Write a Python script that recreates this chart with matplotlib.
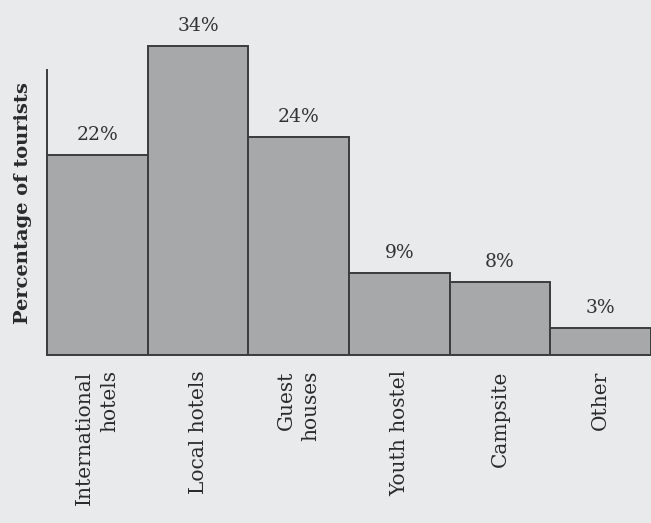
import matplotlib
matplotlib.use('Agg')
import matplotlib.pyplot as plt

# data
categories = ['International\nhotels', 'Local hotels', 'Guest\nhouses',
              'Youth hostel', 'Campsite', 'Other']
percentages = [22, 34, 24, 9, 8, 3]

bg = '#e9eaec'
bar_color = '#a7a8a9'
edge_color = '#3c3c3c'

plt.rcParams['font.family'] = ['DejaVu Serif']

fig = plt.figure(figsize=(6.51, 5.23), dpi=100, facecolor=bg)
ax = fig.add_axes([47 / 651, 168 / 523, 604 / 651, 345 / 523])
ax.set_facecolor(bg)

x = list(range(len(categories)))
bars = ax.bar(x, percentages, width=1.0, color=bar_color,
              edgecolor=edge_color, linewidth=1.4)

for xi, v in zip(x, percentages):
    ax.annotate(f'{v}%', (xi, v), xytext=(0, 8), textcoords='offset points',
                ha='center', va='bottom', fontsize=13.5, color='#333333')

ax.set_xlim(-0.5, 5.5)
ax.set_ylim(0, 38)

for s in ['top', 'right']:
    ax.spines[s].set_visible(False)
ax.spines['left'].set_bounds(0, 31.4)
ax.spines['left'].set_color(edge_color)
ax.spines['left'].set_linewidth(1.4)
ax.spines['bottom'].set_color(edge_color)
ax.spines['bottom'].set_linewidth(1.4)

ax.set_yticks([])
ax.set_xticks(x)
ax.set_xticklabels(categories, rotation=90, fontsize=14.5, color='#2a2a2a',
                   multialignment='right', linespacing=1.4)
ax.tick_params(axis='x', length=0, pad=11)

ax.set_ylabel('Percentage of tourists', fontsize=14, fontweight='bold',
              color='#2a2a2a')
ax.yaxis.set_label_coords(-0.025, 0.44)

fig.savefig('out.png', dpi=100, facecolor=bg)
